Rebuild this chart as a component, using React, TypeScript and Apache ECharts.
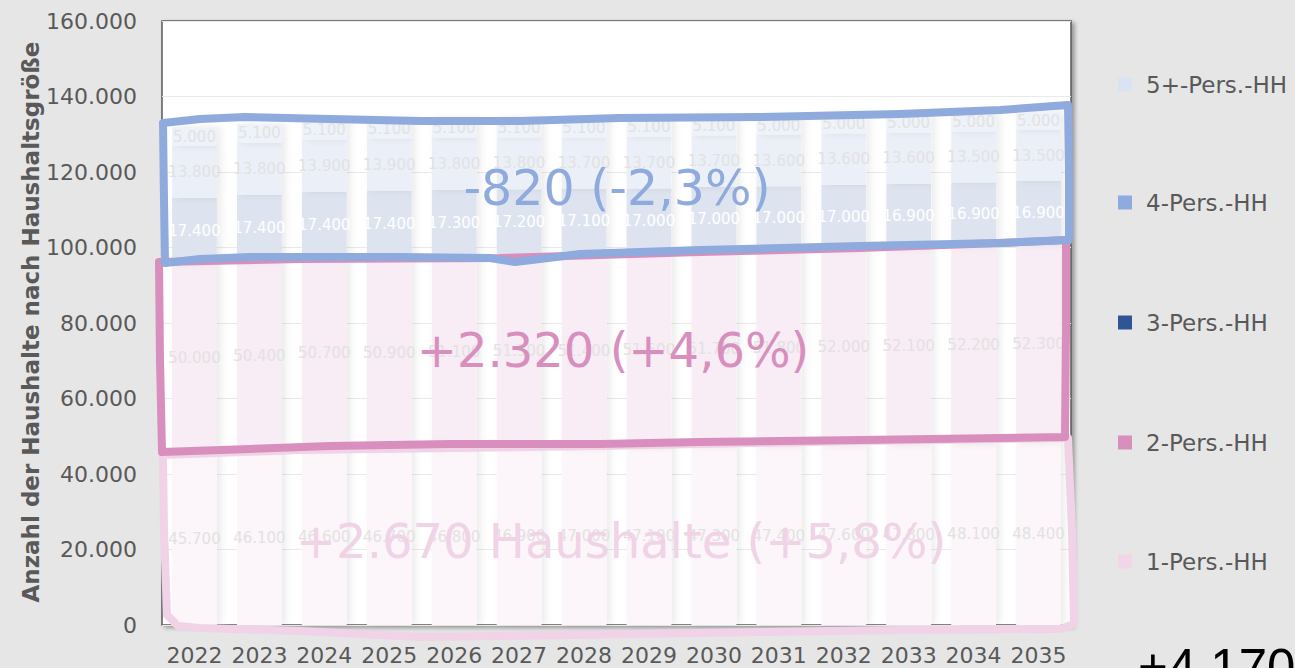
import React, { useEffect, useRef } from "react";
import * as echarts from "echarts";

const years = ["2022", "2023", "2024", "2025", "2026", "2027", "2028", "2029", "2030", "2031", "2032", "2033", "2034", "2035"];
const hh1 = [45700, 46100, 46600, 46700, 46800, 46900, 47000, 47100, 47300, 47400, 47600, 47800, 48100, 48400];
const hh2 = [50000, 50400, 50700, 50900, 51100, 51300, 51400, 51500, 51700, 51800, 52000, 52100, 52200, 52300];
const hh3 = [17400, 17400, 17400, 17400, 17300, 17200, 17100, 17000, 17000, 17000, 17000, 16900, 16900, 16900];
const hh4 = [13800, 13800, 13900, 13900, 13800, 13800, 13700, 13700, 13700, 13600, 13600, 13600, 13500, 13500];
const hh5 = [5000, 5100, 5100, 5100, 5100, 5100, 5100, 5100, 5100, 5000, 5000, 5000, 5000, 5000];

const seriesNames = ["1-Pers.-HH", "2-Pers.-HH", "3-Pers.-HH", "4-Pers.-HH", "5+-Pers.-HH"];
const seriesData = [hh1, hh2, hh3, hh4, hh5];
const legendColors = ["#F2D5E8", "#D88FBE", "#2F5597", "#8FAADC", "#DAE3F3"];
const fadedColors = ["#FCF6FA", "#F8ECF5", "#DEE4EF", "#EBF0F8", "#EEF2F9"];
const labelColors = ["#E2E2E2", "#E2E2E2", "#FFFFFF", "#E2E2E2", "#E2E2E2"];
const legendCenters = [85, 203, 323, 443, 562];

const yTitle = "Anzahl der Haushalte nach Haushaltsgröße";
const notes = ["-820 (-2,3%)", "+2.320 (+4,6%)", "+2.670 Haushalte (+5,8%)"];
const totalNote = "+4.170";

// hand-drawn annotation outlines (pixel positions)
const blueOutline = [[163, 123], [200, 119], [245, 117], [330, 119], [420, 121], [520, 121], [620, 118], [760, 117], [900, 114], [1000, 110], [1068, 105], [1069, 170], [1069, 240], [1000, 243], [860, 246], [700, 250], [580, 254], [540, 259], [515, 262], [490, 258], [400, 257], [250, 257], [200, 259], [165, 263], [164, 200]];
const pinkOutline = [[159, 262], [300, 259], [500, 258], [700, 252], [860, 248], [1000, 243], [1066, 240], [1066, 330], [1065, 437], [1000, 438], [860, 440], [700, 442], [600, 444], [450, 444], [330, 446], [250, 449], [162, 452], [160, 360]];
const lightOutline = [[163, 455], [300, 450], [600, 446], [860, 441], [1068, 438], [1072, 530], [1074, 624], [1060, 629], [900, 630], [700, 633], [500, 636], [420, 637], [300, 631], [200, 628], [178, 626], [167, 615], [164, 530]];

const fmt = (v: number) => String(v).replace(/\B(?=(\d{3})+(?!\d))/g, ".");

export default function App() {
  const ref = useRef<HTMLDivElement>(null);
  useEffect(() => {
    document.body.style.margin = "0";
    const chart = echarts.init(ref.current!, null, { renderer: "svg" });
    const font = "DejaVu Sans";
    const legendOrder = [4, 3, 2, 1, 0];
    chart.setOption({
      animation: false,
      backgroundColor: "#E6E6E6",
      textStyle: { fontFamily: font },
      grid: {
        left: 162, right: 224, top: 21, bottom: 43, show: true,
        backgroundColor: "#FFFFFF", borderColor: "#5A5A5A", borderWidth: 1.5,
        shadowColor: "rgba(0,0,0,0.35)", shadowBlur: 4, shadowOffsetX: 3, shadowOffsetY: 2,
      },
      xAxis: {
        type: "category", data: years,
        axisLine: { show: false }, axisTick: { show: false },
        axisLabel: { color: "#595959", fontSize: 22, margin: 19, interval: 0 },
      },
      yAxis: {
        type: "value", min: 0, max: 160000, interval: 20000,
        axisLabel: { color: "#595959", fontSize: 22, margin: 25, formatter: (v: number) => fmt(v) },
        splitLine: { lineStyle: { color: "#EAEAEA", width: 1 } },
      },
      legend: legendOrder.map((i, k) => ({
        data: [{ name: seriesNames[i], itemStyle: { color: legendColors[i] } }],
        left: 1118, top: legendCenters[k] - 12, padding: 0,
        itemWidth: 14, itemHeight: 14, selectedMode: false, icon: "rect",
        textStyle: { color: "#595959", fontSize: 23, fontFamily: font, padding: [0, 0, 0, 9] },
      })),
      series: seriesData.map((d, i) => ({
        name: seriesNames[i], type: "bar", stack: "total", data: d,
        barCategoryGap: "31%",
        itemStyle: { color: fadedColors[i], shadowColor: "rgba(0,0,0,0.08)", shadowBlur: 7, shadowOffsetX: 4 },
        label: { show: true, position: "inside", color: labelColors[i], fontSize: 15, fontFamily: font, formatter: (p: any) => fmt(p.value) },
      })),
      graphic: [
        { type: "polygon", z: 100, shape: { points: lightOutline }, style: { fill: "none", stroke: "#F0D3E6", lineWidth: 8, lineJoin: "round" } },
        { type: "polygon", z: 101, shape: { points: pinkOutline }, style: { fill: "none", stroke: "#D88FBE", lineWidth: 8, lineJoin: "round" } },
        { type: "polygon", z: 102, shape: { points: blueOutline }, style: { fill: "none", stroke: "#8FAADC", lineWidth: 8, lineJoin: "round" } },
        { type: "text", z: 110, x: 617, y: 188, style: { text: notes[0], fill: "#8FAADC", fontSize: 49, fontFamily: font, align: "center", verticalAlign: "middle" } },
        { type: "text", z: 110, x: 613, y: 350, style: { text: notes[1], fill: "#D88FBE", fontSize: 48, fontFamily: font, align: "center", verticalAlign: "middle" } },
        { type: "text", z: 110, x: 621, y: 541, style: { text: notes[2], fill: "#F0D3E6", fontSize: 48, fontFamily: font, align: "center", verticalAlign: "middle" } },
        { type: "text", z: 110, x: 1138, y: 642, style: { text: totalNote, fill: "#000000", fontSize: 51, fontFamily: "Liberation Sans", align: "left", verticalAlign: "top" } },
        { type: "text", z: 110, x: 31, y: 322, rotation: Math.PI / 2, style: { text: yTitle, fill: "#595959", fontSize: 23, fontWeight: "bold", fontFamily: font, align: "center", verticalAlign: "middle" } },
      ],
    });
    return () => chart.dispose();
  }, []);
  return <div ref={ref} style={{ position: "absolute", left: 0, top: 0, width: 1295, height: 668 }} />;
}
